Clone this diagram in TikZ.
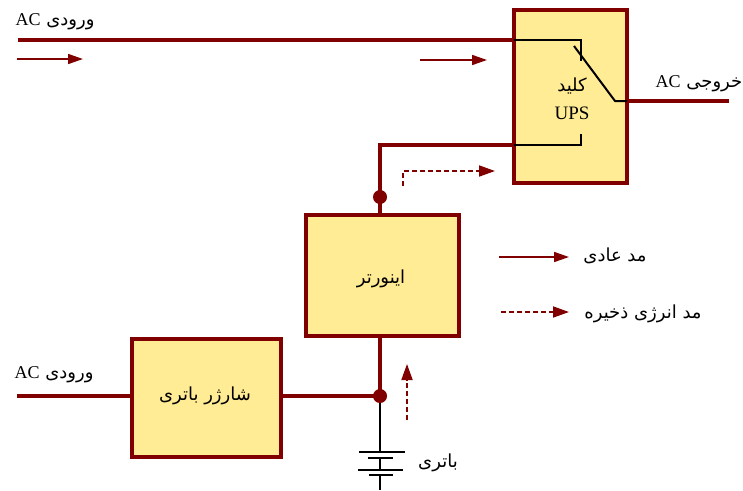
\documentclass[tikz,border=0pt]{standalone}
\usepackage{fontspec}
\setmainfont{Liberation Serif}
\newfontfamily\arabicfont[Script=Arabic]{DejaVu Sans}
\TeXXeTstate=1
\usetikzlibrary{arrows.meta}
\definecolor{darkred}{RGB}{128,0,0}
\definecolor{boxfill}{RGB}{255,236,148}
\newcommand{\fa}[1]{{\arabicfont\beginR #1\endR}}
\newcommand{\faAC}[1]{{\arabicfont\beginR #1 \beginL{\rmfamily\fontsize{18}{18}\selectfont AC}\endL\endR}}
\tikzset{
  blockbox/.style={draw=darkred,fill=boxfill,line width=4pt,minimum width=#1,inner sep=0pt,outer sep=0pt,anchor=north west},
  wire/.style={draw=darkred,line width=3.6pt},
  blackwire/.style={draw=black,line width=2pt},
  plate/.style={draw=black,line width=2pt},
  junction/.style={circle,fill=darkred,inner sep=0pt,outer sep=0pt,minimum size=14pt},
  flowarrow/.style={draw=darkred,line width=1.6pt,-{Triangle[length=15pt,width=10pt]}},
  dasharrow/.style={draw=darkred,line width=1.8pt,dash pattern=on 5pt off 3pt,-{Triangle[length=16pt,width=11pt]}},
  lbl/.style={font=\fontsize{18}{20}\selectfont,inner sep=0pt,text=black}
}
\begin{document}
\begin{tikzpicture}[x=1pt,y=-1pt]
\useasboundingbox (0,0) rectangle (743,490);
% blocks
\node[blockbox=113pt,minimum height=173pt] (sw) at (514,10) {};
\node[blockbox=153pt,minimum height=121pt] (inv) at (306,215) {};
\node[blockbox=149pt,minimum height=118pt] (chg) at (132,339) {};
% coordinates
\coordinate (acin) at (18,40);
\coordinate (acinE) at (sw.west |- acin);
\coordinate (swA) at (581,40);
\coordinate (swAe) at (581,61);
\coordinate (bladeS) at (574,46);
\coordinate (bladeE) at (615,101);
\coordinate (swOut) at (627,101);
\coordinate (acout) at (729,101);
\coordinate (invTurn) at (380,145);
\coordinate (invE) at (514,145);
\coordinate (swB) at (581,145);
\coordinate (swBe) at (581,134);
\node[junction] (j1) at (380,197) {};
\node[junction] (j2) at (380,396) {};
\coordinate (chgIn) at (17,396);
\coordinate (p1) at (380,452);
\coordinate (p2) at (380,458);
\coordinate (p3) at (380,470);
\coordinate (p4) at (380,475);
\coordinate (batEnd) at (380,490);
% wires
\draw[wire] (acin) -- (acinE);
\draw[wire] (swOut) -- (acout);
\draw[wire,line join=miter] (j1.center) -- (invTurn) -- (invE);
\draw[wire] (j1.center) -- (380,215);
\draw[wire] (380,336) -- (j2.center);
\draw[wire] (281,396) -- (j2.center);
\draw[wire] (chgIn) -- (132,396);
% switch internals
\draw[blackwire] (acinE) -- (swA) -- (swAe);
\draw[blackwire] (bladeS) -- (bladeE) -- (swOut);
\draw[blackwire] (invE) -- (swB) -- (swBe);
% battery
\draw[blackwire] (j2.south) -- (p1);
\draw[blackwire] (p2) -- (p3);
\draw[blackwire] (p4) -- (batEnd);
\draw[plate] (359,452) -- (405,452);
\draw[plate] (368,458) -- (393,458);
\draw[plate] (358,470) -- (403,470);
\draw[plate] (369,475) -- (393,475);
% flow arrows
\coordinate (f1a) at (17,59); \coordinate (f1b) at (83,59);
\coordinate (f2a) at (420,60); \coordinate (f2b) at (487,60);
\draw[flowarrow] (f1a) -- (f1b);
\draw[flowarrow] (f2a) -- (f2b);
\coordinate (d1a) at (403,186); \coordinate (d1m) at (403,171); \coordinate (d1b) at (495,171);
\draw[dasharrow] (d1a) -- (d1m) -- (d1b);
\coordinate (d2a) at (407,420); \coordinate (d2b) at (407,364);
\draw[dasharrow] (d2a) -- (d2b);
\coordinate (l1a) at (499,257); \coordinate (l1b) at (569,257);
\draw[flowarrow] (l1a) -- (l1b);
\coordinate (l2a) at (501,312); \coordinate (l2b) at (569,312);
\draw[dasharrow] (l2a) -- (l2b);
% labels
\node[lbl] (t1) at (55,22) {\faAC{ورودی}};
\node[lbl] (t2) at (54,375) {\faAC{ورودی}};
\node[lbl] (t3) at (699,84) {\faAC{خروجی}};
\node[lbl] (t4) at (572,86) {\fa{کلید}};
\node[lbl,font=\fontsize{19}{19}\selectfont] (t5) at (572,113) {UPS};
\node[lbl] (t6) at (381,279) {\fa{اینورتر}};
\node[lbl] (t7) at (205,396) {\fa{شارژر باتری}};
\node[lbl] (t8) at (438,463) {\fa{باتری}};
\node[lbl] (t9) at (615,256) {\fa{مد عادی}};
\node[lbl] (t10) at (643,314) {\fa{مد انرژی ذخیره}};
\end{tikzpicture}
\end{document}
